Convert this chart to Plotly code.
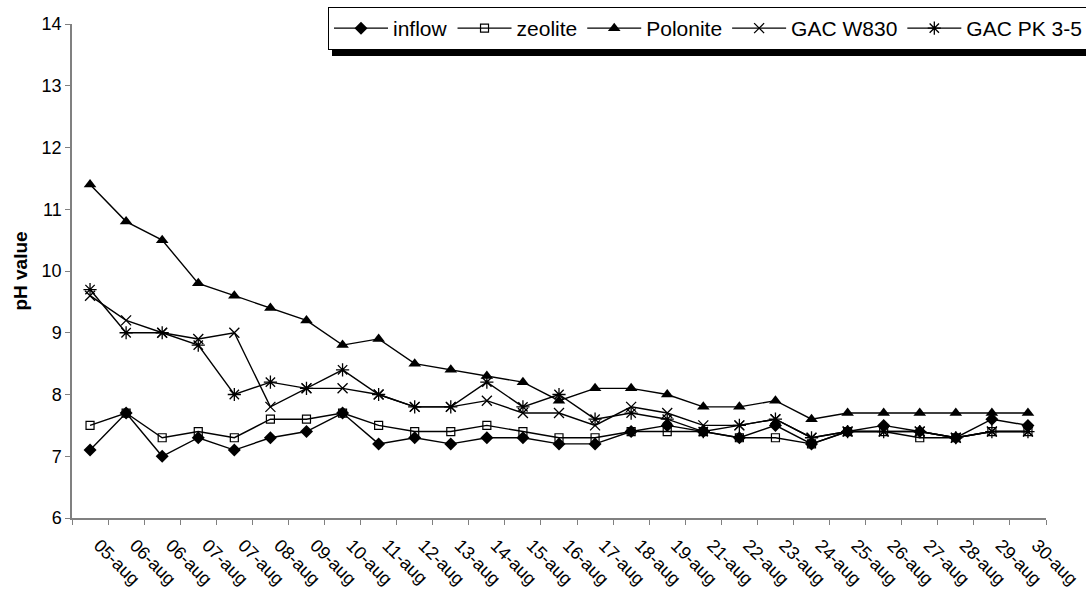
import plotly.graph_objects as go

dates = ["05-aug", "06-aug", "06-aug", "07-aug", "07-aug", "08-aug", "09-aug", "10-aug",
         "11-aug", "12-aug", "13-aug", "14-aug", "15-aug", "16-aug", "17-aug", "18-aug",
         "19-aug", "21-aug", "22-aug", "23-aug", "24-aug", "25-aug", "26-aug", "27-aug",
         "28-aug", "29-aug", "30-aug"]

inflow = [7.1, 7.7, 7.0, 7.3, 7.1, 7.3, 7.4, 7.7, 7.2, 7.3, 7.2, 7.3, 7.3, 7.2, 7.2, 7.4,
          7.5, 7.4, 7.3, 7.5, 7.2, 7.4, 7.5, 7.4, 7.3, 7.6, 7.5]
zeolite = [7.5, 7.7, 7.3, 7.4, 7.3, 7.6, 7.6, 7.7, 7.5, 7.4, 7.4, 7.5, 7.4, 7.3, 7.3, 7.4,
           7.4, 7.4, 7.3, 7.3, 7.2, 7.4, 7.4, 7.3, 7.3, 7.4, 7.4]
polonite = [11.4, 10.8, 10.5, 9.8, 9.6, 9.4, 9.2, 8.8, 8.9, 8.5, 8.4, 8.3, 8.2, 7.9, 8.1, 8.1,
            8.0, 7.8, 7.8, 7.9, 7.6, 7.7, 7.7, 7.7, 7.7, 7.7, 7.7]
gac_w830 = [9.6, 9.2, 9.0, 8.9, 9.0, 7.8, 8.1, 8.1, 8.0, 7.8, 7.8, 7.9, 7.7, 7.7, 7.5, 7.8,
            7.7, 7.5, 7.5, 7.6, 7.3, 7.4, 7.4, 7.4, 7.3, 7.4, 7.4]
gac_pk = [9.7, 9.0, 9.0, 8.8, 8.0, 8.2, 8.1, 8.4, 8.0, 7.8, 7.8, 8.2, 7.8, 8.0, 7.6, 7.7,
          7.6, 7.4, 7.5, 7.6, 7.3, 7.4, 7.4, 7.4, 7.3, 7.4, 7.4]

y_ticks = [6, 7, 8, 9, 10, 11, 12, 13, 14]

series = [
    ("inflow", inflow, dict(symbol="diamond", size=10, color="black")),
    ("zeolite", zeolite, dict(symbol="square-open", size=8, color="black", line=dict(width=1.2, color="black"))),
    ("Polonite", polonite, dict(symbol="triangle-up", size=11, color="black")),
    ("GAC W830", gac_w830, dict(symbol="x-thin-open", size=10, color="black", line=dict(width=1.3, color="black"))),
    ("GAC PK 3-5", gac_pk, dict(symbol="asterisk-open", size=11, color="black", line=dict(width=1.3, color="black"))),
]

x = list(range(len(dates)))
fig = go.Figure()
for name, vals, mk in series:
    fig.add_trace(go.Scatter(x=x, y=vals, name=name, mode="lines+markers",
                             line=dict(color="black", width=1.4), marker=mk))

FONT = "Liberation Sans, Arial, sans-serif"
fig.update_layout(
    width=1086, height=592,
    margin=dict(l=72, r=40, t=24, b=74, autoexpand=False),
    paper_bgcolor="white", plot_bgcolor="white",
    font=dict(family=FONT, size=18, color="black"),
    showlegend=True,
    legend=dict(orientation="h", x=(328 - 72) / 974, y=(518 - 7) / 494,
                xanchor="left", yanchor="top", itemwidth=54,
                bgcolor="white", bordercolor="black", borderwidth=1,
                font=dict(family=FONT, size=21, color="black")),
    xaxis=dict(range=[-0.5, len(dates) - 0.5], tickmode="array", tickvals=x, ticktext=dates,
               tickangle=45, ticks="", showgrid=False, zeroline=False, automargin=False,
               ticklabelstandoff=8, ticklabelshift=9,
               showline=True, linecolor="#808080", linewidth=1.5,
               tickfont=dict(family=FONT, size=18, color="black"),
               minor=dict(tickmode="array", tickvals=[i - 0.5 for i in range(len(dates) + 1)],
                          ticks="outside", ticklen=5, tickcolor="#808080", tickwidth=1, showgrid=False)),
    yaxis=dict(range=[6, 14], tickmode="array", tickvals=y_ticks, ticks="outside", ticklen=5,
               tickcolor="#808080", showgrid=False, zeroline=False, automargin=False,
               showline=True, linecolor="#808080", linewidth=1.5,
               tickfont=dict(family=FONT, size=18, color="black"),
               title=dict(text="<b>pH value</b>", font=dict(family=FONT, size=19, color="black"), standoff=9)),
)

# legend drop shadow
fig.add_shape(type="rect", xref="paper", yref="paper",
              x0=(332 - 72) / 974, x1=(1100 - 72) / 974,
              y0=(518 - 56) / 494, y1=(518 - 12) / 494,
              fillcolor="black", line=dict(width=0), layer="above")

fig.write_html("out.html")
